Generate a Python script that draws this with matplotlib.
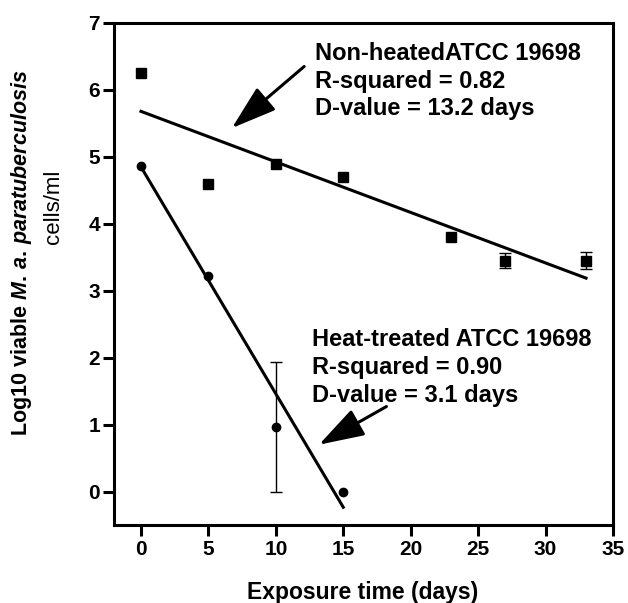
import numpy as np
import matplotlib.pyplot as plt

plt.rcParams['font.family'] = 'Liberation Sans'
plt.rcParams['mathtext.fontset'] = 'custom'
plt.rcParams['mathtext.it'] = 'Liberation Sans:italic:bold'
plt.rcParams['mathtext.rm'] = 'Liberation Sans:bold'

# non-heated ATCC 19698 (squares)
nh_days = [0, 5, 10, 15, 23, 27, 33]
nh_log = [6.25, 4.6, 4.9, 4.7, 3.8, 3.45, 3.45]
nh_err = [0, 0, 0, 0, 0, 0.11, 0.13]
nh_fit = [5.68, -0.0755]   # intercept, slope

# heat-treated ATCC 19698 (circles)
ht_days = [0, 5, 10, 15]
ht_log = [4.87, 3.22, 0.96, 0.0]
ht_err_lo = [0, 0, 0.96, 0]
ht_err_hi = [0, 0, 0.97, 0]
ht_fit = [4.85, -0.339]

xticks = [0, 5, 10, 15, 20, 25, 30, 35]
yticks = [0, 1, 2, 3, 4, 5, 6, 7]

fig = plt.figure(figsize=(6.28, 6.03), dpi=100)
ax = fig.add_axes([114/628, 1-525/603, (613-114)/628, (525-23)/603])

# error bars only where there is a spread
nh_d = np.array(nh_days); nh_y = np.array(nh_log); nh_e = np.array(nh_err)
m = nh_e > 0
ax.errorbar(nh_d[m], nh_y[m], yerr=nh_e[m], fmt='none', ecolor='k',
            elinewidth=1, capsize=4, capthick=1)
ht_d = np.array(ht_days); ht_y = np.array(ht_log)
lo = np.array(ht_err_lo); hi = np.array(ht_err_hi)
m = (lo + hi) > 0
ax.errorbar(ht_d[m], ht_y[m], yerr=[lo[m], hi[m]], fmt='none', ecolor='k',
            elinewidth=1, capsize=4, capthick=1)

ax.plot(nh_days, nh_log, 's', color='k', ms=7)
ax.plot(ht_days, ht_log, 'o', color='k', ms=6)

x1 = np.array([nh_days[0], nh_days[-1]])
ax.plot(x1, nh_fit[0] + nh_fit[1]*x1, color='k', lw=2.2)
x2 = np.array([ht_days[0], ht_days[-1]])
ax.plot(x2, ht_fit[0] + ht_fit[1]*x2, color='k', lw=2.2)

ax.text(12.9, 6.72, "Non-heatedATCC 19698\nR-squared = 0.82\nD-value = 13.2 days",
        fontsize=17, fontweight='bold', va='top', ha='left', linespacing=1.27)
ax.text(12.7, 2.44, "Heat-treated ATCC 19698\nR-squared = 0.90\nD-value = 3.1 days",
        fontsize=17, fontweight='bold', va='top', ha='left', linespacing=1.27)

arrow = dict(arrowstyle='-|>,head_length=1.4,head_width=0.45', lw=2.2, color='k',
             mutation_scale=20, shrinkA=0, shrinkB=0)
ax.annotate('', xy=(6.74, 5.43), xytext=(12.1, 6.35), arrowprops=arrow)
ax.annotate('', xy=(13.2, 0.70), xytext=(18.2, 1.27), arrowprops=arrow)

ax.set_xlim(-2, 35)
ax.set_ylim(-0.5, 7)
ax.set_xticks(xticks)
ax.set_yticks(yticks)
for s in ax.spines.values():
    s.set_linewidth(2.2)
ax.tick_params(direction='out', length=8, width=2.2, labelsize=15)
ax.tick_params(axis='y', pad=2)
ax.tick_params(axis='x', pad=3)
for lab in ax.get_xticklabels() + ax.get_yticklabels():
    lab.set_fontweight('bold')

fig.text(363/628, 1-592/603, "Exposure time (days)", fontsize=16.5, fontweight='bold',
         ha='center', va='center')
fig.text(22/628, 1-253/603, r"Log10 viable $\mathit{M.\,a.\,paratuberculosis}$",
         fontsize=15.5, fontweight='bold', rotation=90, ha='center', va='center')
fig.text(53/628, 1-207/603, "cells/ml", fontsize=16, rotation=90,
         ha='center', va='center')

fig.savefig('out.png', dpi=100)
